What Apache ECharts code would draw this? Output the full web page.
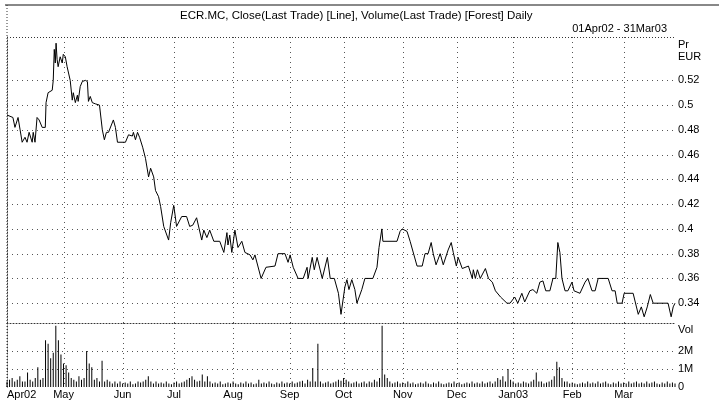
<!DOCTYPE html>
<html>
<head>
<meta charset="utf-8">
<script src="https://cdn.jsdelivr.net/npm/echarts@6/dist/echarts.min.js"></script>
<style>
body { margin: 0; background: #fff; }
#chart { width: 719px; height: 400px; }
</style>
</head>
<body>
<div id="chart"></div>
<script>
// x is the trading-day number counted from 1 Apr 2002 (0) to 31 Mar 2003 (260)
const monthDay = [0, 22, 45, 65, 88, 110, 131, 154, 175, 197, 220, 240];
const monthName = ['Apr02', 'May', 'Jun', 'Jul', 'Aug', 'Sep', 'Oct', 'Nov', 'Dec', 'Jan03', 'Feb', 'Mar'];

const priceTicks = [0.34, 0.36, 0.38, 0.4, 0.42, 0.44, 0.46, 0.48, 0.5, 0.52];
const volTicks = [0, 1, 2];

// close price at its turning points
const priceDay = [
  0, 2.3, 3.1, 4.3, 5.1, 5.9, 7.0, 7.8, 8.6, 9.8, 10.2, 10.9, 11.7, 12.5, 13.7, 14.9,
  15.2, 16.0, 17.6, 18.0, 18.4, 18.8, 19.1, 19.5, 19.9, 20.7, 21.5, 21.9, 22.7, 23.4,
  24.6, 25.4, 25.8, 26.6, 27.4, 27.7, 28.5, 29.3, 30.5, 31.3, 31.7, 32.4, 33.2, 34.4,
  36.0, 37.1, 37.9, 38.7, 39.5, 41.4, 42.2, 43.0, 46.1, 47.3, 48.8, 49.2, 50.0, 50.8,
  51.6, 52.8, 53.9, 55.1, 55.9, 57.1, 57.8, 59.0, 59.8, 61.0, 62.9, 63.7, 64.9, 65.3,
  66.0, 68.0, 69.9, 71.1, 72.3, 73.8, 75.8, 76.6, 77.8, 78.9, 80.5, 82.8, 84.4, 85.6,
  86.0, 86.7, 87.5, 88.7, 89.9, 91.4, 92.6, 94.6, 95.7, 96.5, 98.9, 100.8, 104.3, 105.5,
  108.2, 109.4, 110.2, 111.4, 113.3, 115.3, 116.8, 117.2, 118.8, 119.6, 120.7, 122.7,
  124.7, 125.8, 127.4, 129.0, 130.0, 130.7, 131.5, 132.3, 133.1, 134.2, 135.4, 136.2,
  138.1, 139.3, 142.4, 144.0, 144.8, 145.9, 146.3, 151.8, 153.0, 153.8, 155.7, 156.9,
  159.6, 161.6, 162.7, 163.9, 165.1, 165.9, 167.0, 168.6, 169.8, 171.7, 172.9, 173.7,
  174.9, 175.6, 177.2, 179.6, 181.1, 181.5, 182.3, 183.1, 184.2, 186.2, 187.4, 188.9,
  190.1, 192.1, 194.6, 195.8, 197.6, 198.8, 200.4, 201.5, 203.5, 204.7, 206.2, 207.4,
  208.6, 209.7, 211.3, 212.5, 213.6, 214.4, 215.2, 216.0, 217.2, 218.3, 219.9, 220.7,
  223.0, 225.0, 226.1, 227.7, 228.9, 230.1, 234.0, 235.5, 236.7, 237.5, 239.4, 240.2,
  243.7, 245.7, 246.9, 248.0, 249.2, 250.4, 251.5, 257.3, 258.5, 259.3, 260.0
];
const priceClose = [
  0.492, 0.490, 0.482, 0.490, 0.480, 0.470, 0.474, 0.470, 0.478, 0.470, 0.478, 0.470, 0.490, 0.488, 0.482, 0.482,
  0.502, 0.510, 0.512, 0.520, 0.545, 0.534, 0.550, 0.537, 0.531, 0.539, 0.534, 0.541, 0.539, 0.531,
  0.520, 0.504, 0.510, 0.502, 0.508, 0.503, 0.515, 0.519, 0.520, 0.519, 0.503, 0.507, 0.502, 0.501,
  0.500, 0.480, 0.472, 0.478, 0.478, 0.488, 0.482, 0.470, 0.470, 0.476, 0.475, 0.478, 0.472, 0.478,
  0.474, 0.466, 0.457, 0.442, 0.449, 0.442, 0.431, 0.426, 0.418, 0.402, 0.391, 0.405, 0.419, 0.413,
  0.402, 0.410, 0.410, 0.402, 0.403, 0.409, 0.391, 0.399, 0.393, 0.399, 0.390, 0.390, 0.381, 0.397,
  0.387, 0.395, 0.381, 0.399, 0.385, 0.390, 0.381, 0.379, 0.375, 0.379, 0.360, 0.369, 0.370, 0.380,
  0.380, 0.373, 0.379, 0.369, 0.360, 0.360, 0.369, 0.360, 0.377, 0.367, 0.377, 0.360,
  0.377, 0.360, 0.360, 0.348, 0.331, 0.330, 0.353, 0.359, 0.351, 0.359, 0.351, 0.340,
  0.351, 0.360, 0.360, 0.369, 0.385, 0.400, 0.390, 0.390, 0.398, 0.400, 0.398, 0.390,
  0.370, 0.370, 0.380, 0.380, 0.389, 0.380, 0.371, 0.380, 0.371, 0.383, 0.389, 0.381,
  0.370, 0.377, 0.368, 0.370, 0.360, 0.367, 0.360, 0.367, 0.360, 0.368, 0.360, 0.357,
  0.350, 0.345, 0.340, 0.340, 0.345, 0.340, 0.348, 0.341, 0.350, 0.351, 0.348, 0.357,
  0.358, 0.350, 0.350, 0.360, 0.360, 0.389, 0.381, 0.360, 0.350, 0.350, 0.357, 0.350,
  0.348, 0.357, 0.360, 0.350, 0.350, 0.360, 0.360, 0.350, 0.350, 0.340, 0.340, 0.348,
  0.348, 0.331, 0.337, 0.329, 0.337, 0.347, 0.340, 0.340, 0.329, 0.337, 0.340
];

// daily volume in millions, one value per trading day
const volume = [
  0.3, 0.4, 0.5, 0.3, 0.4, 0.6, 0.3, 0.3, 0.8, 0.4,
  0.3, 0.5, 1.1, 0.4, 0.5, 2.6, 2.4, 1.6, 1.9, 3.4,
  2.6, 1.8, 1.3, 1.2, 0.8, 0.5, 0.4, 0.3, 0.6, 0.4,
  0.5, 2.0, 1.3, 1.1, 0.4, 0.5, 0.3, 1.45, 0.3, 0.4,
  0.3, 0.2, 0.3, 0.2, 0.3, 0.2, 0.25, 0.2, 0.3, 0.15,
  0.2, 0.3, 0.25, 0.3, 0.4, 0.6, 0.3, 0.2, 0.3, 0.2,
  0.25, 0.2, 0.3, 0.2, 0.15, 0.25, 0.3, 0.2, 0.25, 0.3,
  0.4, 0.5, 0.6, 0.4, 0.3, 0.35, 0.7, 0.3, 0.6, 0.3,
  0.2, 0.25, 0.2, 0.3, 0.15, 0.2, 0.25, 0.2, 0.3, 0.2,
  0.15, 0.25, 0.2, 0.3, 0.2, 0.25, 0.15, 0.2, 0.4, 0.2,
  0.25, 0.2, 0.3, 0.2, 0.15, 0.25, 0.2, 0.3, 0.2, 0.25,
  0.2, 0.3, 0.2, 0.25, 0.3, 0.35, 0.2, 0.4, 0.3, 1.05,
  0.3, 2.4, 0.3, 0.2, 0.25, 0.3, 0.2, 0.25, 0.3, 0.4,
  0.35, 0.5, 0.4, 0.3, 0.2, 0.25, 0.3, 0.2, 0.25, 0.3,
  0.2, 0.3, 0.25, 0.4, 0.3, 0.5, 3.4, 0.7, 0.5, 0.3,
  0.2, 0.25, 0.3, 0.2, 0.25, 0.2, 0.3, 0.2, 0.25, 0.15,
  0.2, 0.25, 0.2, 0.3, 0.2, 0.15, 0.25, 0.2, 0.3, 0.2,
  0.15, 0.2, 0.25, 0.2, 0.3, 0.2, 0.25, 0.15, 0.2, 0.25,
  0.2, 0.3, 0.2, 0.25, 0.2, 0.3, 0.2, 0.25, 0.3, 0.2,
  0.3, 0.5, 0.4, 0.6, 0.3, 1.0, 0.4, 0.3, 0.2, 0.25,
  0.2, 0.3, 0.25, 0.2, 0.3, 0.4, 0.8, 0.3, 0.3, 0.2,
  0.25, 0.3, 0.4, 0.6, 1.4, 1.1, 0.5, 0.3, 0.3, 0.2,
  0.25, 0.2, 0.15, 0.2, 0.25, 0.2, 0.3, 0.2, 0.25, 0.2,
  0.3, 0.2, 0.25, 0.3, 0.2, 0.15, 0.25, 0.2, 0.3, 0.2,
  0.25, 0.2, 0.3, 0.2, 0.25, 0.3, 0.2, 0.25, 0.2, 0.3,
  0.2, 0.25, 0.3, 0.2, 0.15, 0.25, 0.2, 0.3, 0.2, 0.25,
  0.2
];

const font = 'Liberation Sans, Arial, sans-serif';
const dayMax = 260;
const priceMin = 0.324, priceMax = 0.555;
const volMax = 3.55;

const chart = echarts.init(document.getElementById('chart'));

chart.setOption({
  animation: false,
  backgroundColor: '#fff',
  grid: [
    { left: 7, right: 44, top: 37, height: 286 },
    { left: 7, right: 44, top: 323, height: 64 }
  ],
  xAxis: [
    {
      gridIndex: 0, type: 'value', min: 0, max: dayMax,
      axisLine: { show: true, lineStyle: { color: '#333', type: [1, 2] } },
      axisTick: { show: false },
      axisLabel: { show: false },
      splitLine: { show: false }
    },
    {
      gridIndex: 1, type: 'value', min: 0, max: dayMax,
      axisLine: { show: false },
      axisTick: { show: false },
      axisLabel: {
        customValues: monthDay,
        formatter: (v) => monthName[monthDay.indexOf(v)],
        alignMinLabel: 'left',
        margin: 2, fontSize: 11, color: '#000', fontFamily: font
      },
      splitLine: { show: false }
    }
  ],
  yAxis: [
    {
      gridIndex: 0, type: 'value', position: 'right', min: priceMin, max: priceMax,
      axisLine: { show: true, lineStyle: { color: '#333', type: [1, 2] } },
      axisTick: { show: false },
      axisLabel: {
        customValues: priceTicks,
        formatter: (v) => String(v),
        margin: 3, padding: [7, 0, 0, 0],
        fontSize: 11, color: '#000', fontFamily: font
      },
      splitLine: { show: false }
    },
    {
      gridIndex: 1, type: 'value', position: 'right', min: 0, max: volMax,
      axisLine: { show: true, lineStyle: { color: '#333', type: [1, 2] } },
      axisTick: { show: false },
      axisLabel: {
        customValues: volTicks,
        formatter: (v) => (v ? v + 'M' : '0'),
        margin: 3, fontSize: 11, color: '#000', fontFamily: font
      },
      splitLine: { show: false }
    }
  ],
  series: [
    {
      type: 'line', xAxisIndex: 0, yAxisIndex: 0,
      data: priceDay.map((d, i) => [d, priceClose[i]]),
      showSymbol: false,
      lineStyle: { color: '#000', width: 1 }
    },
    {
      type: 'bar', xAxisIndex: 1, yAxisIndex: 1,
      data: volume.map((v, i) => [i, v]),
      barWidth: 1,
      itemStyle: { color: '#000' }
    }
  ],
  graphic: [
    { id: 'topRule', type: 'line', shape: { x1: 5, y1: 5, x2: 719, y2: 5 }, style: { stroke: '#888', lineWidth: 2 } },
    { id: 'leftEdge', type: 'line', shape: { x1: 7, y1: 5, x2: 7, y2: 388 }, style: { stroke: '#333', lineWidth: 1, lineDash: [1, 2] } },
    { id: 'topEdge', type: 'line', shape: { x1: 7, y1: 37.5, x2: 675, y2: 37.5 }, style: { stroke: '#333', lineWidth: 1, lineDash: [1, 2] } },
    {
      id: 'title', type: 'text', x: 180, y: 16,
      style: { text: 'ECR.MC, Close(Last Trade) [Line], Volume(Last Trade) [Forest] Daily', font: '11.5px ' + font, fill: '#000', verticalAlign: 'middle' }
    },
    {
      id: 'range', type: 'text', x: 667, y: 29,
      style: { text: '01Apr02 - 31Mar03', font: '11px ' + font, fill: '#000', align: 'right', verticalAlign: 'middle' }
    },
    { id: 'pr', type: 'text', x: 678, y: 45, style: { text: 'Pr', font: '11px ' + font, fill: '#000', verticalAlign: 'middle' } },
    { id: 'eur', type: 'text', x: 678, y: 57, style: { text: 'EUR', font: '11px ' + font, fill: '#000', verticalAlign: 'middle' } },
    { id: 'vol', type: 'text', x: 678, y: 330, style: { text: 'Vol', font: '11px ' + font, fill: '#000', verticalAlign: 'middle' } }
  ]
});

// dotted grid: month starts and labelled levels, placed through the axes' own scales
const crisp = (v) => Math.round(v) + 0.5;
const gridDash = { stroke: '#555', lineWidth: 1, lineDash: [1, 4] };
const gridLines = [];
function addGrid(gi, yMin, yMax, levels) {
  monthDay.slice(1).forEach((d, k) => {
    const a = chart.convertToPixel({ gridIndex: gi }, [d, yMax]);
    const b = chart.convertToPixel({ gridIndex: gi }, [d, yMin]);
    gridLines.push({
      id: 'gx' + gi + '_' + k, type: 'line', z: -1, silent: true,
      shape: { x1: crisp(a[0]), y1: a[1], x2: crisp(b[0]), y2: b[1] }, style: gridDash
    });
  });
  levels.forEach((v, k) => {
    const a = chart.convertToPixel({ gridIndex: gi }, [0, v]);
    const b = chart.convertToPixel({ gridIndex: gi }, [dayMax, v]);
    gridLines.push({
      id: 'gy' + gi + '_' + k, type: 'line', z: -1, silent: true,
      shape: { x1: a[0], y1: crisp(a[1]), x2: b[0], y2: crisp(b[1]) }, style: gridDash
    });
  });
}
addGrid(0, priceMin, priceMax, priceTicks);
addGrid(1, 0, volMax, volTicks.slice(1));
chart.setOption({ graphic: gridLines });
</script>
</body>
</html>
